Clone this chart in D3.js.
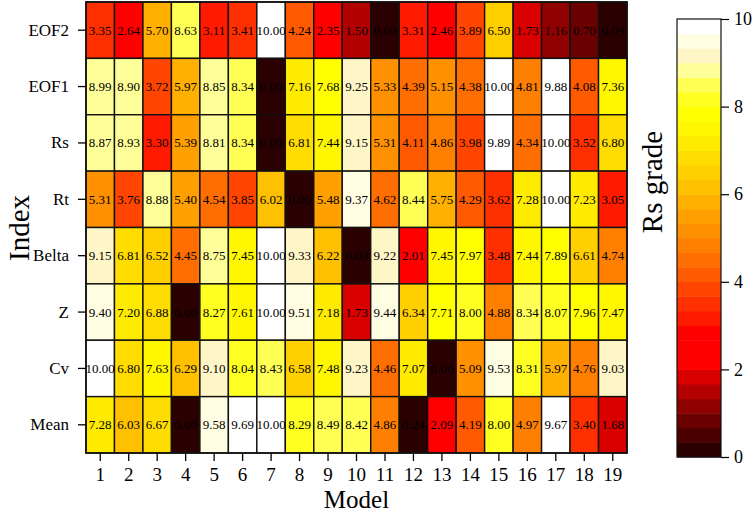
<!DOCTYPE html>
<html lang="en">
<head>
  <meta charset="UTF-8">
  <title>Rs grade heatmap</title>
  <script src="https://d3js.org/d3.v7.min.js"></script>
  <style>
    body { margin: 0; background: #fff; }
    svg text { font-family: "Liberation Serif", "Times New Roman", serif !important; fill: #000; }
  </style>
</head>
<body>
<svg id="chart" width="754" height="514"></svg>
<script>
// categories
const models = d3.range(1, 20).map(String);
const indices = ["EOF2", "EOF1", "Rs", "Rt", "Belta", "Z", "Cv", "Mean"];

// grade per index (rows, top to bottom), one value per model
const EOF2  = [3.35, 2.64, 5.70, 8.63, 3.11, 3.41, 10.00, 4.24, 2.35, 1.50, 0.00, 3.31, 2.46, 3.89, 6.50, 1.73, 1.16, 0.70, 0.09];
const EOF1  = [8.99, 8.90, 3.72, 5.97, 8.85, 8.34, 0.00, 7.16, 7.68, 9.25, 5.33, 4.39, 5.15, 4.38, 10.00, 4.81, 9.88, 4.08, 7.36];
const Rs    = [8.87, 8.93, 3.30, 5.39, 8.81, 8.34, 0.00, 6.81, 7.44, 9.15, 5.31, 4.11, 4.86, 3.98, 9.89, 4.34, 10.00, 3.52, 6.80];
const Rt    = [5.31, 3.76, 8.88, 5.40, 4.54, 3.85, 6.02, 0.00, 5.48, 9.37, 4.62, 8.44, 5.75, 4.29, 3.62, 7.28, 10.00, 7.23, 3.05];
const Belta = [9.15, 6.81, 6.52, 4.45, 8.75, 7.45, 10.00, 9.33, 6.22, 0.00, 9.22, 2.01, 7.45, 7.97, 3.48, 7.44, 7.89, 6.61, 4.74];
const Z     = [9.40, 7.20, 6.88, 0.00, 8.27, 7.61, 10.00, 9.51, 7.18, 1.73, 9.44, 6.34, 7.71, 8.00, 4.88, 8.34, 8.07, 7.96, 7.47];
const Cv    = [10.00, 6.80, 7.63, 6.29, 9.10, 8.04, 8.43, 6.58, 7.48, 9.23, 4.46, 7.07, 0.00, 5.09, 9.53, 8.31, 5.97, 4.76, 9.03];
const Mean  = [7.28, 6.03, 6.67, 0.00, 9.58, 9.69, 10.00, 8.29, 8.49, 8.42, 4.86, 0.24, 2.09, 4.19, 8.00, 4.97, 9.67, 3.40, 1.68];
const rows = [EOF2, EOF1, Rs, Rt, Belta, Z, Cv, Mean];

// colour bar ticks
const barTicks = [0, 2, 4, 6, 8, 10];

// 30 discrete levels, dark red -> red -> orange -> yellow -> white
const palette = [
  "#2b0000", "#4a0000", "#6b0000", "#8f0000", "#b30000", "#d90000",
  "#ff0000", "#ff0000", "#ff0000", "#ff1a00", "#ff3000", "#ff4500",
  "#ff5a00", "#ff6e00", "#ff8000", "#ff9000", "#ffa000", "#ffb000",
  "#ffc000", "#ffcf00", "#ffdd00", "#ffeb00", "#fff700", "#ffff00",
  "#ffff22", "#ffff55", "#ffff99", "#fff6c8", "#fffde2", "#ffffff"
];

const cells = [];
rows.forEach((vals, r) => vals.forEach((v, c) => cells.push({ idx: indices[r], model: models[c], v })));

const svg = d3.select("#chart");
const plot = { left: 86, right: 627, top: 2, bottom: 453 };

const x = d3.scaleBand().domain(models).range([plot.left, plot.right]);
const y = d3.scaleBand().domain(indices).range([plot.top, plot.bottom]);
const color = d3.scaleQuantize().domain([0, 10]).range(palette);

// cells
svg.append("g").selectAll("rect").data(cells).join("rect")
  .attr("x", d => x(d.model))
  .attr("y", d => y(d.idx))
  .attr("width", x.bandwidth())
  .attr("height", y.bandwidth())
  .attr("fill", d => color(d.v))
  .attr("stroke", "#111")
  .attr("stroke-width", 1.4);

svg.append("g").selectAll("text").data(cells).join("text")
  .attr("x", d => x(d.model) + x.bandwidth() / 2)
  .attr("y", d => y(d.idx) + y.bandwidth() / 2)
  .attr("dy", "0.35em")
  .attr("text-anchor", "middle")
  .attr("font-size", 13)
  .text(d => d.v.toFixed(2));

// frame
svg.append("rect")
  .attr("x", plot.left).attr("y", plot.top)
  .attr("width", plot.right - plot.left).attr("height", plot.bottom - plot.top)
  .attr("fill", "none").attr("stroke", "#111").attr("stroke-width", 1.6);

// axes
const xAxis = svg.append("g")
  .attr("transform", `translate(0,${plot.bottom})`)
  .call(d3.axisBottom(x).tickSize(8).tickPadding(7));
xAxis.select(".domain").remove();
xAxis.selectAll("line").attr("stroke", "#000").attr("stroke-width", 1.3);
xAxis.selectAll("text").attr("font-size", 19);

const yAxis = svg.append("g")
  .attr("transform", `translate(${plot.left},0)`)
  .call(d3.axisLeft(y).tickSize(8).tickPadding(9));
yAxis.select(".domain").remove();
yAxis.selectAll("line").attr("stroke", "#000").attr("stroke-width", 1.3);
yAxis.selectAll("text").attr("font-size", 17);

svg.append("text")
  .attr("x", (plot.left + plot.right) / 2).attr("y", 508)
  .attr("text-anchor", "middle").attr("font-size", 25)
  .text("Model");

svg.append("text")
  .attr("transform", "translate(29,228) rotate(-90)")
  .attr("text-anchor", "middle").attr("font-size", 29)
  .text("Index");

// colour bar
const bar = { left: 677, right: 721, top: 19, bottom: 457 };
const yb = d3.scaleLinear().domain([0, 10]).range([bar.bottom, bar.top]);
const step = 10 / palette.length;

svg.append("g").selectAll("rect").data(palette).join("rect")
  .attr("x", bar.left)
  .attr("y", (d, i) => yb((i + 1) * step))
  .attr("width", bar.right - bar.left)
  .attr("height", (d, i) => yb(i * step) - yb((i + 1) * step) + 0.5)
  .attr("fill", d => d);

svg.append("rect")
  .attr("x", bar.left).attr("y", bar.top)
  .attr("width", bar.right - bar.left).attr("height", bar.bottom - bar.top)
  .attr("fill", "none").attr("stroke", "#111").attr("stroke-width", 1.2);

const barAxis = svg.append("g")
  .attr("transform", `translate(${bar.right},0)`)
  .call(d3.axisRight(yb).tickValues(barTicks).tickSize(8).tickPadding(5));
barAxis.select(".domain").remove();
barAxis.selectAll("line").attr("stroke", "#000").attr("stroke-width", 1.2);
barAxis.selectAll("text").attr("font-size", 18);

svg.append("text")
  .attr("transform", "translate(662,182) rotate(-90)")
  .attr("text-anchor", "middle").attr("font-size", 29)
  .text("Rs grade");
</script>
</body>
</html>
